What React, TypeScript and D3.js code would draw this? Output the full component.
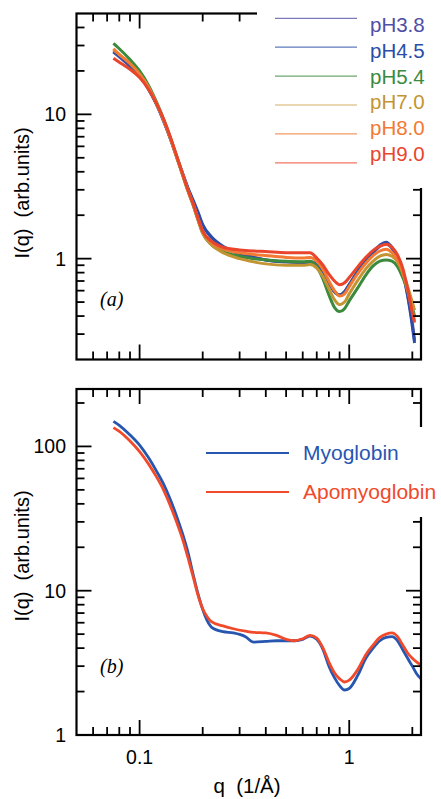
import React from "react";
import * as d3 from "d3";

// ---------- Data ----------
const topQ = [0.075, 0.08, 0.09, 0.1, 0.11, 0.12, 0.13, 0.14, 0.15, 0.16, 0.17, 0.18, 0.19, 0.2, 0.22, 0.25, 0.3, 0.35, 0.4, 0.5, 0.6, 0.65, 0.7, 0.75, 0.8, 0.85, 0.9, 0.95, 1.0, 1.1, 1.2, 1.3, 1.4, 1.5, 1.6, 1.7, 1.8, 1.9, 2.0, 2.05];

const pH38 = [27, 25, 21.5, 18.5, 15, 11.8, 9.0, 6.8, 5.1, 3.9, 3.05, 2.5, 2.05, 1.7, 1.4, 1.2, 1.08, 1.02, 0.98, 0.95, 0.94, 0.95, 0.91, 0.8, 0.68, 0.59, 0.56, 0.59, 0.66, 0.82, 0.97, 1.1, 1.22, 1.27, 1.18, 1.02, 0.8, 0.56, 0.36, 0.27];
const pH45 = [27.5, 25.5, 22, 18.8, 15.2, 11.9, 9.1, 6.85, 5.15, 3.95, 3.1, 2.55, 2.1, 1.72, 1.42, 1.22, 1.09, 1.02, 0.98, 0.95, 0.94, 0.95, 0.91, 0.8, 0.68, 0.59, 0.56, 0.59, 0.66, 0.82, 0.98, 1.12, 1.24, 1.3, 1.2, 1.03, 0.8, 0.55, 0.34, 0.26];
const pH54 = [31, 28.5, 24, 20, 16, 12.3, 9.3, 6.9, 5.1, 3.85, 2.95, 2.35, 1.85, 1.5, 1.25, 1.12, 1.04, 1.0, 0.98, 0.96, 0.95, 0.96, 0.88, 0.72, 0.56, 0.46, 0.43, 0.45, 0.51, 0.63, 0.77, 0.89, 0.96, 0.98, 0.96, 0.88, 0.74, 0.6, 0.46, 0.4];
const pH70 = [28, 26, 22.5, 19, 15.5, 12, 9.2, 6.9, 5.1, 3.85, 2.95, 2.35, 1.85, 1.5, 1.25, 1.1, 1.0, 0.95, 0.92, 0.9, 0.9, 0.91, 0.86, 0.75, 0.62, 0.52, 0.48, 0.5, 0.57, 0.71, 0.85, 0.96, 1.04, 1.07, 1.04, 0.95, 0.8, 0.64, 0.5, 0.44];
const pH80 = [28.5, 26, 22.5, 19, 15.5, 12, 9.2, 6.9, 5.1, 3.9, 3.0, 2.4, 1.9, 1.55, 1.3, 1.17, 1.1, 1.07, 1.05, 1.02, 1.01, 1.02, 0.96, 0.84, 0.7, 0.6, 0.55, 0.57, 0.64, 0.79, 0.93, 1.05, 1.13, 1.16, 1.1, 0.98, 0.8, 0.6, 0.44, 0.37];
const pH90 = [24.5, 23, 20.5, 18, 15, 12, 9.3, 7.0, 5.2, 3.9, 3.0, 2.4, 1.9, 1.55, 1.32, 1.2, 1.15, 1.13, 1.12, 1.1, 1.1, 1.1, 1.01, 0.9, 0.78, 0.7, 0.66, 0.68, 0.74, 0.88, 1.02, 1.14, 1.22, 1.26, 1.2, 1.06, 0.86, 0.62, 0.42, 0.36];

const topNames = ["pH3.8", "pH4.5", "pH5.4", "pH7.0", "pH8.0", "pH9.0"];
const topValues = [pH38, pH45, pH54, pH70, pH80, pH90];
const topColors = ["#4f4fa6", "#2a4ea8", "#3b8a3d", "#c39532", "#f27a32", "#e9452d"];

const botQ = [0.075, 0.08, 0.09, 0.1, 0.11, 0.12, 0.13, 0.14, 0.15, 0.16, 0.17, 0.18, 0.19, 0.2, 0.21, 0.22, 0.25, 0.28, 0.32, 0.35, 0.4, 0.45, 0.5, 0.55, 0.6, 0.65, 0.7, 0.75, 0.8, 0.85, 0.9, 0.95, 1.0, 1.1, 1.2, 1.3, 1.4, 1.5, 1.6, 1.7, 1.8, 1.9, 2.0, 2.1, 2.2];
const myoglobin = [149, 140, 120, 102, 84, 68, 55, 43, 33, 25, 18.5, 13, 9.5, 7.4, 6.2, 5.6, 5.2, 5.1, 4.8, 4.4, 4.45, 4.5, 4.5, 4.5, 4.6, 4.85, 4.6, 3.9, 3.0, 2.5, 2.2, 2.05, 2.1, 2.6, 3.4, 4.0, 4.5, 4.75, 4.8, 4.5, 3.9, 3.4, 3.0, 2.65, 2.45];
const apomyoglobin = [135, 127, 109, 92, 76, 62, 50, 39, 30, 23, 17, 12.5, 9.3, 7.5, 6.6, 6.1, 5.7, 5.45, 5.25, 5.15, 5.1, 4.9, 4.6, 4.5, 4.65, 4.9, 4.7, 4.0, 3.2, 2.7, 2.45, 2.33, 2.4, 2.85, 3.6, 4.2, 4.75, 5.0, 5.1, 4.8, 4.2, 3.7, 3.4, 3.2, 3.05];

const botNames = ["Myoglobin", "Apomyoglobin"];
const botValues = [myoglobin, apomyoglobin];
const botColors = ["#2756b0", "#f04a2a"];

const xMajor = [0.1, 1];
const xMinor = [0.06, 0.07, 0.08, 0.09, 0.2, 0.3, 0.4, 0.5, 0.6, 0.7, 0.8, 0.9, 2];
const xLabels = ["0.1", "1"];
const topYMajor = [1, 10];
const topYMinor = [0.3, 0.4, 0.5, 0.6, 0.7, 0.8, 0.9, 2, 3, 4, 5, 6, 7, 8, 9, 20, 30, 40];
const topYLabels = ["1", "10"];
const botYMajor = [1, 10, 100];
const botYMinor = [2, 3, 4, 5, 6, 7, 8, 9, 20, 30, 40, 50, 60, 70, 80, 90, 200];
const botYLabels = ["1", "10", "100"];

// ---------- Layout ----------
const W = 441;
const H = 799;
const L = 76.5;
const R = 421;
const FONT = "'Liberation Sans', Arial, Helvetica, sans-serif";

const x = d3.scaleLog().domain([0.05, 2.2]).range([L, R]);
const yTop = d3.scaleLog().domain([0.2, 50]).range([359.5, 13.5]);
const yBot = d3.scaleLog().domain([1, 250]).range([735, 389]);

function Panel({ y, q, values, colors, yMajor, yMinor, yLabels, clipId, sw, label, labelY }) {
  const [y0, y1] = y.range();
  const top = y1;
  const bot = y0;
  const line = (vals) =>
    d3
      .line()
      .x((d, i) => x(q[i]))
      .y((d) => y(d))
      .curve(d3.curveMonotoneX)(vals);
  const MAJ = 15;
  const MIN = 8;
  const tickProps = { stroke: "#000", strokeWidth: 1.8 };
  return (
    <g>
      <defs>
        <clipPath id={clipId}>
          <rect x={L} y={top} width={R - L} height={bot - top} />
        </clipPath>
      </defs>
      <g clipPath={`url(#${clipId})`}>
        {values.map((v, i) => (
          <path key={i} d={line(v)} fill="none" stroke={colors[i]} strokeWidth={sw} strokeLinejoin="round" />
        ))}
      </g>
      {xMajor.map((t) => (
        <g key={"xM" + t}>
          <line x1={x(t)} x2={x(t)} y1={bot} y2={bot - MAJ} {...tickProps} />
          <line x1={x(t)} x2={x(t)} y1={top} y2={top + MAJ} {...tickProps} />
        </g>
      ))}
      {xMinor.map((t) => (
        <g key={"xm" + t}>
          <line x1={x(t)} x2={x(t)} y1={bot} y2={bot - MIN} {...tickProps} />
          <line x1={x(t)} x2={x(t)} y1={top} y2={top + MIN} {...tickProps} />
        </g>
      ))}
      {yMajor.map((t) => (
        <g key={"yM" + t}>
          <line x1={L} x2={L + MAJ} y1={y(t)} y2={y(t)} {...tickProps} />
          <line x1={R} x2={R - MAJ} y1={y(t)} y2={y(t)} {...tickProps} />
        </g>
      ))}
      {yMinor.map((t) => (
        <g key={"ym" + t}>
          <line x1={L} x2={L + MIN} y1={y(t)} y2={y(t)} {...tickProps} />
          <line x1={R} x2={R - MIN} y1={y(t)} y2={y(t)} {...tickProps} />
        </g>
      ))}
      <rect x={L} y={top} width={R - L} height={bot - top} fill="none" stroke="#000" strokeWidth={2.2} />
      {yMajor.map((t, i) => (
        <text key={"yl" + t} x={66} y={y(t)} dy="0.36em" textAnchor="end" fontFamily={FONT} fontSize={19.5}>
          {yLabels[i]}
        </text>
      ))}
      <text
        transform={`translate(29,${labelY}) rotate(-90)`}
        textAnchor="middle"
        fontFamily={FONT}
        fontSize={20}
        style={{ whiteSpace: "pre" }}
      >
        {"I(q)  (arb.units)"}
      </text>
      <text x={100} y={label.y} fontFamily="'Liberation Serif', 'Times New Roman', serif" fontStyle="italic" fontSize={20}>
        {label.text}
      </text>
    </g>
  );
}

export default function App() {
  return (
    <svg
      width={W}
      height={H}
      viewBox={`0 0 ${W} ${H}`}
      style={{ position: "absolute", left: 0, top: 0, background: "#fff", display: "block" }}
    >
      <rect x={0} y={0} width={W} height={H} fill="#fff" />
      <Panel
        y={yTop}
        q={topQ}
        values={topValues}
        colors={topColors}
        yMajor={topYMajor}
        yMinor={topYMinor}
        yLabels={topYLabels}
        clipId="clipTop"
        sw={3}
        label={{ text: "(a)", y: 306 }}
        labelY={193}
      />
      <Panel
        y={yBot}
        q={botQ}
        values={botValues}
        colors={botColors}
        yMajor={botYMajor}
        yMinor={botYMinor}
        yLabels={botYLabels}
        clipId="clipBot"
        sw={2.8}
        label={{ text: "(b)", y: 673 }}
        labelY={556}
      />
      {/* top legend */}
      <rect x={257} y={0} width={W - 257} height={188} fill="#fff" />
      {topNames.map((n, i) => (
        <g key={n}>
          <line x1={275} x2={357} y1={18.3 + i * 28.9} y2={18.3 + i * 28.9} stroke={topColors[i]} strokeWidth={1.2} strokeOpacity={0.75} />
          <text x={370} y={32.3 + i * 25.7} fill={topColors[i]} fontFamily={FONT} fontSize={20.5}>
            {n}
          </text>
        </g>
      ))}
      {/* bottom legend */}
      <rect x={196} y={427} width={W - 196} height={90} fill="#fff" />
      {botNames.map((n, i) => (
        <g key={n}>
          <line x1={206} x2={289} y1={453 + i * 39} y2={453 + i * 39} stroke={botColors[i]} strokeWidth={2.2} />
          <text x={303} y={459.5 + i * 39} fill={botColors[i]} fontFamily={FONT} fontSize={21}>
            {n}
          </text>
        </g>
      ))}
      {xMajor.map((t, i) => (
        <text key={"xl" + t} x={x(t)} y={764} textAnchor="middle" fontFamily={FONT} fontSize={19.5}>
          {xLabels[i]}
        </text>
      ))}
      <text x={247} y={793} textAnchor="middle" fontFamily={FONT} fontSize={20.5} style={{ whiteSpace: "pre" }}>
        {"q  (1/Å)"}
      </text>
    </svg>
  );
}
